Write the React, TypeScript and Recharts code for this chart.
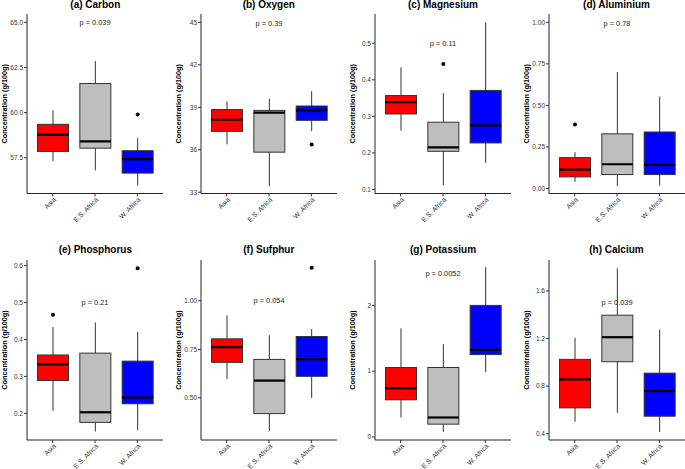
import { Bar, ComposedChart, ReferenceDot, XAxis, YAxis } from 'recharts';

// ---------------------------------------------------------------------------
// Data. Each box row is
// [lower whisker, Q1, median, Q3, upper whisker] for Asia, E.S. Africa, W. Africa.
// ---------------------------------------------------------------------------
const regions = ['Asia', 'E.S. Africa', 'W. Africa'];
const regionFill = ['#FF0000', '#BEBEBE', '#0000FF'];

const carbonBox = [
  [57.31, 57.85, 58.78, 59.35, 60.13],
  [56.8, 58.03, 58.41, 61.61, 62.85],
  [55.96, 56.65, 57.42, 57.89, 58.59],
];
const carbonOut = [[], [], [59.89]];
const carbonTicks = [57.5, 60, 62.5, 65];

const oxygenBox = [
  [36.38, 37.3, 38.12, 38.84, 39.42],
  [33.42, 35.83, 38.62, 38.78, 39.61],
  [37.32, 38.08, 38.78, 39.09, 40.13],
];
const oxygenOut = [[], [], [36.38]];
const oxygenTicks = [33, 36, 39, 42, 45];

const magnesiumBox = [
  [0.261, 0.3065, 0.339, 0.357, 0.434],
  [0.1117, 0.2044, 0.2153, 0.284, 0.3636],
  [0.1727, 0.2273, 0.2755, 0.371, 0.557],
];
const magnesiumOut = [[], [0.443], []];
const magnesiumTicks = [0.1, 0.2, 0.3, 0.4, 0.5];

const aluminiumBox = [
  [0.04, 0.07, 0.114, 0.186, 0.218],
  [0.016, 0.084, 0.146, 0.329, 0.7],
  [0.018, 0.084, 0.143, 0.34, 0.553],
];
const aluminiumOut = [[0.385], [], []];
const aluminiumTicks = [0, 0.25, 0.5, 0.75, 1];

const phosphorusBox = [
  [0.207, 0.289, 0.3325, 0.358, 0.4335],
  [0.151, 0.1757, 0.203, 0.363, 0.446],
  [0.155, 0.226, 0.243, 0.3414, 0.42],
];
const phosphorusOut = [[0.467], [], [0.593]];
const phosphorusTicks = [0.2, 0.3, 0.4, 0.5, 0.6];

const sulphurBox = [
  [0.597, 0.683, 0.761, 0.804, 0.925],
  [0.33, 0.419, 0.589, 0.698, 0.823],
  [0.5, 0.611, 0.699, 0.816, 0.855],
];
const sulphurOut = [[], [], [1.17]];
const sulphurTicks = [0.5, 0.75, 1.0];

const potassiumBox = [
  [0.296, 0.565, 0.74, 1.056, 1.651],
  [0.077, 0.195, 0.296, 1.056, 1.41],
  [0.985, 1.252, 1.325, 2.0, 2.58],
];
const potassiumOut = [[], [], []];
const potassiumTicks = [0, 1, 2];

const calciumBox = [
  [0.5, 0.617, 0.856, 1.025, 1.206],
  [0.575, 1.005, 1.211, 1.396, 1.79],
  [0.414, 0.547, 0.758, 0.909, 1.277],
];
const calciumOut = [[], [], []];
const calciumTicks = [0.4, 0.8, 1.2, 1.6];

const pLabels = ['p = 0.039', 'p = 0.39', 'p = 0.11', 'p = 0.78', 'p = 0.21', 'p = 0.054', 'p = 0.0052', 'p = 0.039'];
const pHeights = [65.0, 44.95, 0.5, 0.995, 0.5, 1.0, 2.48, 1.5];

// ---------------------------------------------------------------------------
// Panel layout (ggplot-like grid of 4 x 2 panels)
// ---------------------------------------------------------------------------
const COL_AXIS = [27.3, 200.8, 375, 548.5];
const ROW_PLOT_TOP = [14, 259.5];
const ROW_PLOT_H = [179.5, 180];
const ROW_TITLE_Y = [5, 249.5];
const PLOT_W = 136;
const YAXIS_W = 27;
const XAXIS_H = 34;
const TOP_PAD = 8;
const INK = '#333333';

const panels = [
  { title: '(a) Carbon', box: carbonBox, out: carbonOut, ticks: carbonTicks, digits: 1, domain: [55.52, 65.46], col: 0, row: 0 },
  { title: '(b) Oxygen', box: oxygenBox, out: oxygenOut, ticks: oxygenTicks, digits: 0, domain: [32.91, 45.59], col: 1, row: 0 },
  { title: '(c) Magnesium', box: magnesiumBox, out: magnesiumOut, ticks: magnesiumTicks, digits: 1, domain: [0.089, 0.58], col: 2, row: 0 },
  { title: '(d) Aluminium', box: aluminiumBox, out: aluminiumOut, ticks: aluminiumTicks, digits: 2, domain: [-0.03, 1.05], col: 3, row: 0 },
  { title: '(e) Phosphorus', box: phosphorusBox, out: phosphorusOut, ticks: phosphorusTicks, digits: 1, domain: [0.128, 0.615], col: 0, row: 1 },
  { title: '(f) Sufphur', box: sulphurBox, out: sulphurOut, ticks: sulphurTicks, digits: 2, domain: [0.283, 1.21], col: 1, row: 1 },
  { title: '(g) Potassium', box: potassiumBox, out: potassiumOut, ticks: potassiumTicks, digits: 0, domain: [-0.046, 2.69], col: 2, row: 1 },
  { title: '(h) Calcium', box: calciumBox, out: calciumOut, ticks: calciumTicks, digits: 1, domain: [0.347, 1.86], col: 3, row: 1 },
];

// The bar spans the whiskers; box, median and outliers are placed on the same
// linear scale the library used for that span.
function BoxShape(props: any) {
  const { x, y, width, height, payload } = props;
  const [lo, q1, med, q3, hi] = payload.stats;
  const top = Math.min(y, y + height);
  const bottom = Math.max(y, y + height);
  const toPx = (v: number) => bottom - ((v - lo) / (hi - lo)) * (bottom - top);
  const cx = x + width / 2;
  return (
    <g>
      <line x1={cx} x2={cx} y1={toPx(hi)} y2={toPx(lo)} stroke={INK} strokeWidth={1} />
      <rect
        x={x}
        y={toPx(q3)}
        width={width}
        height={toPx(q1) - toPx(q3)}
        fill={payload.fill}
        stroke={INK}
        strokeWidth={1}
      />
      <line x1={x} x2={x + width} y1={toPx(med)} y2={toPx(med)} stroke="#000" strokeWidth={2.2} />
      {payload.out.map((v: number, j: number) => (
        <circle key={j} cx={cx} cy={toPx(v)} r={2} fill="#000" />
      ))}
    </g>
  );
}

function RegionTick(props: any) {
  const { x, y, payload } = props;
  return (
    <g transform={`translate(${x + 2},${y})`}>
      <text x={0} y={0} dy="0.35em" transform="rotate(-45)" textAnchor="end" fontSize={6.8} fill={INK}>
        {payload.value}
      </text>
    </g>
  );
}

function Panel({ p, idx }: { p: (typeof panels)[number]; idx: number }) {
  const data = regions.map((region, i) => ({
    region,
    range: [p.box[i][0], p.box[i][4]],
    stats: p.box[i],
    out: p.out[i],
    fill: regionFill[i],
  }));
  const plotH = ROW_PLOT_H[p.row];
  const left = COL_AXIS[p.col] - YAXIS_W;
  const top = ROW_PLOT_TOP[p.row] - TOP_PAD;

  return (
    <>
      <div
        style={{
          position: 'absolute',
          left: COL_AXIS[p.col],
          width: PLOT_W,
          top: ROW_TITLE_Y[p.row] - 6,
          height: 12,
          lineHeight: '12px',
          textAlign: 'center',
          fontSize: 10,
          fontWeight: 'bold',
          color: '#000',
        }}
      >
        {p.title}
      </div>
      <div style={{ position: 'absolute', left, top }}>
        <ComposedChart
          width={YAXIS_W + PLOT_W + 1}
          height={TOP_PAD + plotH + XAXIS_H}
          data={data}
          margin={{ top: TOP_PAD, right: 1, bottom: 0, left: 0 }}
        >
          <XAxis
            dataKey="region"
            type="category"
            interval={0}
            height={XAXIS_H}
            padding={{ left: 4.5, right: 4.5 }}
            tickSize={3}
            tickMargin={2}
            axisLine={{ stroke: '#222', strokeWidth: 1 }}
            tickLine={{ stroke: INK }}
            tick={<RegionTick />}
          />
          <YAxis
            type="number"
            width={YAXIS_W}
            domain={p.domain}
            ticks={p.ticks}
            allowDataOverflow
            interval={0}
            tickSize={3}
            tickMargin={1}
            tickFormatter={(v: number) => v.toFixed(p.digits)}
            tick={{ fontSize: 6.5, fill: INK }}
            axisLine={{ stroke: '#222', strokeWidth: 1 }}
            tickLine={{ stroke: INK }}
            label={{
              value: 'Concentration (g/100g)',
              angle: -90,
              position: 'insideLeft',
              offset: 4,
              style: { textAnchor: 'middle', fontWeight: 'bold', fontSize: 7.3, fill: '#000' },
            }}
          />
          <Bar dataKey="range" barSize={31} shape={<BoxShape />} isAnimationActive={false} />
          <ReferenceDot
            x="E.S. Africa"
            y={pHeights[idx]}
            r={0}
            fill="none"
            stroke="none"
            label={{ value: pLabels[idx], position: 'center', fontSize: 7.4, fill: '#222' }}
          />
        </ComposedChart>
      </div>
    </>
  );
}

export default function App() {
  return (
    <div
      style={{
        position: 'absolute',
        left: 0,
        top: 0,
        width: 685,
        height: 469,
        background: '#fff',
        overflow: 'hidden',
        fontFamily: '"Liberation Sans", Arial, sans-serif',
      }}
    >
      {panels.map((p, i) => (
        <Panel key={p.title} p={p} idx={i} />
      ))}
    </div>
  );
}
